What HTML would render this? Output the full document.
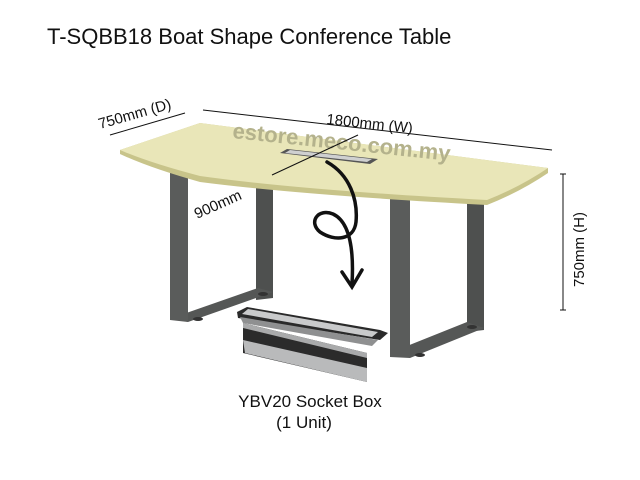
<!DOCTYPE html>
<html><head><meta charset="utf-8"><style>
html,body{margin:0;padding:0;background:#fff}
svg{display:block}
text{font-family:"Liberation Sans",sans-serif;fill:#111}
</style></head><body>
<svg width="640" height="480" viewBox="0 0 640 480">
<text x="47" y="44" font-size="22">T-SQBB18 Boat Shape Conference Table</text>
<!-- legs back posts -->
<polygon points="256,180 273,180 273,298 256,300" fill="#4e504f"/>
<polygon points="467,200 484,200 484,330 467,332" fill="#4e504f"/>
<!-- bottom bars -->
<polygon points="172,318 258,288 273,292 188,322" fill="#555756"/>
<polygon points="392,352 467,322 484,328 410,358" fill="#555756"/>
<!-- front posts -->
<polygon points="170,166 188,170 188,322 170,320" fill="#5a5c5b"/>
<polygon points="390,196 410,196 410,358 390,357" fill="#5a5c5b"/>
<ellipse cx="198" cy="319" rx="5" ry="2" fill="#333"/>
<ellipse cx="263" cy="294" rx="5" ry="2" fill="#333"/>
<ellipse cx="420" cy="355" rx="5" ry="2" fill="#333"/>
<ellipse cx="472" cy="327" rx="5" ry="2" fill="#333"/>
<!-- tabletop -->
<path d="M120,150 L200,123 L548,168 L548,173 Q520,192 487,205 Q300,195 200,182 Q150,168 120,154 Z" fill="#c8c48a"/>
<path d="M120,150 L200,123 L548,168 Q520,187 487,200 Q300,190 200,176 Q150,163 120,150 Z" fill="#e9e6b8"/>
<!-- grommet -->
<polygon points="287,149 378,159 370,164 280,153" fill="#555"/>
<polygon points="290,150 372,159 367,162 285,153" fill="#cfd0d0"/>
<text x="232" y="138" font-size="22" font-weight="bold" style="fill:#b4b28c" transform="rotate(6 232 138)">estore.meco.com.my</text>
<!-- dimension lines -->
<g stroke="#111" stroke-width="1">
<line x1="110" y1="135" x2="185" y2="113"/>
<line x1="203" y1="110" x2="552" y2="150"/>
<line x1="272" y1="175" x2="358" y2="135"/>
<line x1="563" y1="174" x2="563" y2="310"/>
<line x1="560" y1="174" x2="566" y2="174"/><line x1="560" y1="310" x2="566" y2="310"/>
</g>
<text x="100" y="129" font-size="15" transform="rotate(-16 100 129)">750mm (D)</text>
<text x="326" y="124" font-size="15" transform="rotate(6 326 124)">1800mm (W)</text>
<text x="197" y="219" font-size="15" transform="rotate(-24 197 219)">900mm</text>
<text x="584" y="287" font-size="15" transform="rotate(-90 584 287)">750mm (H)</text>
<!-- arrow -->
<path d="M327,162 C350,175 358,200 356,222 C354,240 335,242 320,232 C308,222 318,208 333,214 C350,222 354,250 352,284" fill="none" stroke="#111" stroke-width="3.5" stroke-linecap="round"/>
<path d="M342,272 L352,287 L362,270" fill="none" stroke="#111" stroke-width="3.5" stroke-linecap="round"/>
<!-- socket box -->
<polygon points="243,323 367,353 367,382 243,353" fill="#2b2b2b"/>
<polygon points="243,340 367,368 367,382 245,353" fill="#b9babb"/>
<polygon points="243,323 367,353 367,358 243,328" fill="#a9aaab"/>
<polygon points="237,312 247,307 380,330 388,333 380,340 238,318" fill="#2a2a2a"/>
<polygon points="248,309 378,332 372,337 242,314" fill="#c9cacb"/>
<polygon points="240,317 378,340 372,346 243,323" fill="#8f9091"/>
<text x="310" y="407" font-size="17" text-anchor="middle">YBV20 Socket Box</text>
<text x="304" y="428" font-size="17" text-anchor="middle">(1 Unit)</text>
</svg>
</body></html>
